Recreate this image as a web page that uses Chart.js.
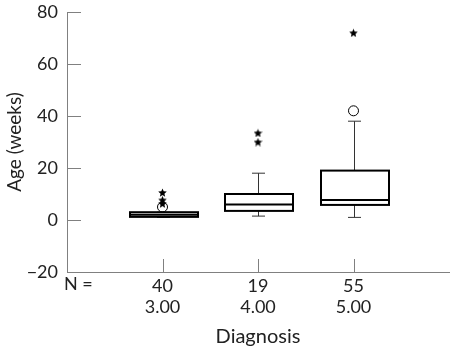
<!DOCTYPE html>
<html>
<head>
<meta charset="utf-8">
<script src="https://cdn.jsdelivr.net/npm/chart.js@4"></script>
<style>
  html, body { margin: 0; padding: 0; background: #fff; }
  #wrap { width: 455px; height: 350px; }
</style>
</head>
<body>
<div id="wrap"><canvas id="grafico" width="455" height="350"></canvas></div>
<script>
// dados
const diagnosticos = [3, 4, 5];
const rotulosDiag = ['3.00', '4.00', '5.00'];
const contagens = [40, 19, 55];
const bigodeMin = [1.0, 1.5, 1.0];
const quartil1 = [1.2, 3.5, 5.8];
const medianas = [2.0, 6.0, 7.7];
const quartil3 = [3.0, 10.0, 19.0];
const bigodeMax = [3.0, 18.0, 38.0];
const outliersCirculo = [{ x: 3, y: 5 }, { x: 5, y: 42 }];
const outliersEstrela = [
    { x: 3, y: 6.3 }, { x: 3, y: 7.7 }, { x: 3, y: 10.6 },
    { x: 4, y: 30 }, { x: 4, y: 33.5 },
    { x: 5, y: 72 }
];
const ticksY = [-20, 0, 20, 40, 60, 80];

const FONTE = 'Lato, "DejaVu Sans", sans-serif';
const COR_TEXTO = '#222';
const COR_EIXO = '#808080';
const LARGURA_CAIXA = 68;
const LARGURA_TAMPA = 13;

// estrela preenchida para os extremos
function criarEstrela(tam) {
    const c = document.createElement('canvas');
    c.width = tam; c.height = tam;
    const g = c.getContext('2d');
    const cx = tam / 2, cy = tam / 2 + 0.5, rOut = tam / 2, rIn = rOut * 0.45;
    g.beginPath();
    for (let i = 0; i < 10; i++) {
        const r = i % 2 === 0 ? rOut : rIn;
        const a = -Math.PI / 2 + i * Math.PI / 5;
        g.lineTo(cx + r * Math.cos(a), cy + r * Math.sin(a));
    }
    g.closePath();
    g.fillStyle = '#000';
    g.fill();
    return c;
}

const pluginCaixas = {
    id: 'caixas',
    beforeDatasetsDraw(chart) {
        const { ctx, scales: { x, y }, chartArea } = chart;
        ctx.save();
        // marcas dos eixos para dentro
        ctx.strokeStyle = COR_EIXO;
        ctx.lineWidth = 1;
        ticksY.forEach(v => {
            const py = Math.round(y.getPixelForValue(v)) + 0.5;
            ctx.beginPath();
            ctx.moveTo(chartArea.left, py);
            ctx.lineTo(chartArea.left + 14, py);
            ctx.stroke();
        });
        diagnosticos.forEach(d => {
            const px = Math.round(x.getPixelForValue(d)) + 0.5;
            ctx.beginPath();
            ctx.moveTo(px, chartArea.bottom);
            ctx.lineTo(px, chartArea.bottom - 13);
            ctx.stroke();
        });

        diagnosticos.forEach((d, i) => {
            const cx = Math.round(x.getPixelForValue(d)) + 0.5;
            const yMin = y.getPixelForValue(bigodeMin[i]);
            const yMax = y.getPixelForValue(bigodeMax[i]);
            const yQ1 = y.getPixelForValue(quartil1[i]);
            const yQ3 = y.getPixelForValue(quartil3[i]);
            const yMed = y.getPixelForValue(medianas[i]);

            // bigodes
            ctx.strokeStyle = '#333';
            ctx.lineWidth = 1;
            ctx.beginPath();
            ctx.moveTo(cx, yMax); ctx.lineTo(cx, yQ3);
            ctx.moveTo(cx, yQ1); ctx.lineTo(cx, yMin);
            ctx.moveTo(cx - LARGURA_TAMPA / 2, yMax); ctx.lineTo(cx + LARGURA_TAMPA / 2, yMax);
            ctx.moveTo(cx - LARGURA_TAMPA / 2, yMin); ctx.lineTo(cx + LARGURA_TAMPA / 2, yMin);
            ctx.stroke();

            // caixa
            const xl = Math.round(cx - LARGURA_CAIXA / 2);
            ctx.fillStyle = '#fff';
            ctx.fillRect(xl, yQ3, LARGURA_CAIXA, yQ1 - yQ3);
            ctx.strokeStyle = '#000';
            ctx.lineWidth = 2;
            ctx.strokeRect(xl, yQ3, LARGURA_CAIXA, yQ1 - yQ3);
            ctx.beginPath();
            ctx.moveTo(xl, yMed); ctx.lineTo(xl + LARGURA_CAIXA, yMed);
            ctx.stroke();
        });

        // rótulo "N ="
        ctx.fillStyle = COR_TEXTO;
        ctx.font = '18px ' + FONTE;
        ctx.textAlign = 'left';
        ctx.textBaseline = 'middle';
        ctx.fillText('N =', 64, chartArea.bottom + 12);
        ctx.restore();
    }
};

const ctx = document.getElementById('grafico').getContext('2d');
new Chart(ctx, {
    type: 'scatter',
    data: {
        datasets: [
            {
                label: 'extremos',
                data: outliersEstrela,
                pointStyle: criarEstrela(9),
                pointRadius: 5
            },
            {
                label: 'outliers',
                data: outliersCirculo,
                pointStyle: 'circle',
                pointRadius: 5,
                borderColor: '#000',
                borderWidth: 1,
                backgroundColor: 'rgba(255,255,255,0)'
            }
        ]
    },
    options: {
        responsive: false,
        animation: false,
        layout: { padding: { top: 12, right: 4, left: 0, bottom: 0 } },
        plugins: { legend: { display: false }, tooltip: { enabled: false } },
        scales: {
            x: {
                type: 'linear',
                min: 2, max: 6,
                afterFit: s => { s.height = 78; s.paddingLeft = 0; s.paddingRight = 0; },
                afterBuildTicks: s => { s.ticks = diagnosticos.map(v => ({ value: v })); },
                grid: { display: false, drawTicks: false },
                border: { color: COR_EIXO, width: 1 },
                ticks: {
                    padding: 4,
                    color: COR_TEXTO,
                    font: { family: FONTE, size: 18, lineHeight: '21px' },
                    callback: v => {
                        const i = diagnosticos.indexOf(v);
                        return i < 0 ? '' : [String(contagens[i]), rotulosDiag[i]];
                    }
                },
                title: {
                    display: true,
                    text: 'Diagnosis',
                    color: COR_TEXTO,
                    font: { family: FONTE, size: 20 },
                    padding: { top: 0, bottom: 1 }
                }
            },
            y: {
                min: -20, max: 80,
                afterFit: s => { s.width = 67; s.paddingTop = 0; s.paddingBottom = 0; },
                afterBuildTicks: s => { s.ticks = ticksY.map(v => ({ value: v })); },
                grid: { display: false, drawTicks: false },
                border: { color: COR_EIXO, width: 1 },
                ticks: {
                    padding: 9,
                    color: COR_TEXTO,
                    font: { family: FONTE, size: 18 },
                    callback: v => v < 0 ? '\u2212' + String(-v) : String(v)
                },
                title: {
                    display: true,
                    text: 'Age (weeks)',
                    color: COR_TEXTO,
                    font: { family: FONTE, size: 19 },
                    padding: { top: 3, bottom: 0 }
                }
            }
        }
    },
    plugins: [pluginCaixas]
});
</script>
</body>
</html>
